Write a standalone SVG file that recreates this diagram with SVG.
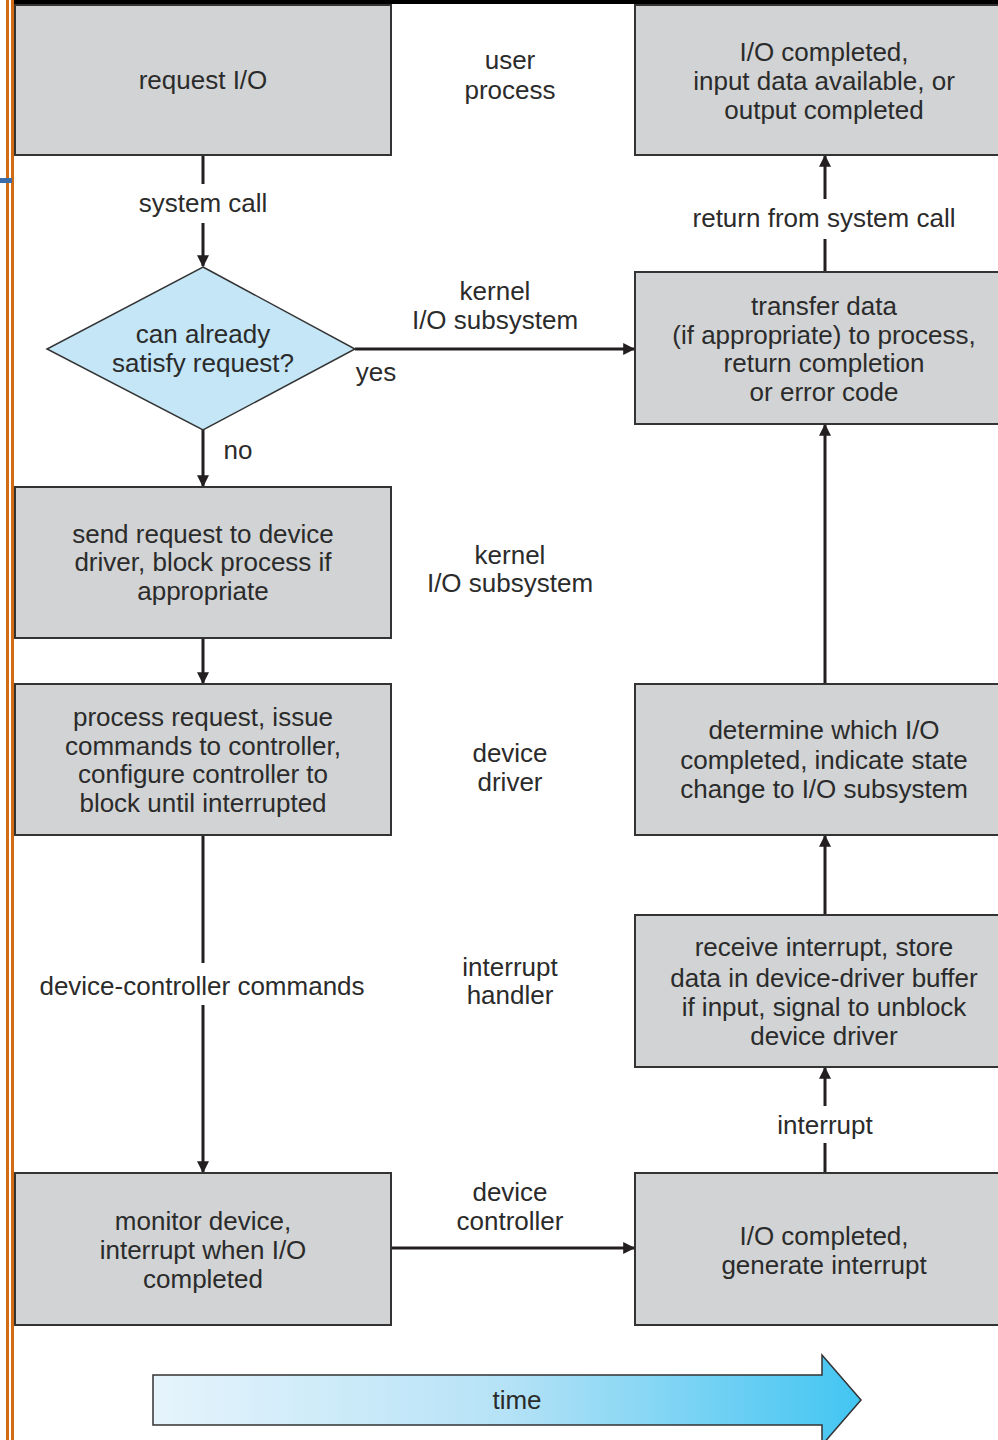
<svg xmlns="http://www.w3.org/2000/svg" width="998" height="1440" viewBox="0 0 998 1440">
<defs>
<style>
.box{fill:#d1d3d4;stroke:#333;stroke-width:2}
.t{font-family:"Liberation Sans",Arial,sans-serif;font-size:26px;fill:#2b2b2b;text-anchor:middle}
.c{stroke:#231f20;stroke-width:3;fill:none}
.ca{stroke:#231f20;stroke-width:3;fill:none;marker-end:url(#ah)}
</style>
<marker id="ah" viewBox="0 0 10 10" refX="9" refY="5" markerWidth="4" markerHeight="4" orient="auto" markerUnits="strokeWidth">
<path d="M0,0 L10,5 L0,10 z" fill="#231f20"/>
</marker>
<linearGradient id="tg" x1="0" y1="0" x2="1" y2="0">
<stop offset="0" stop-color="#e6f4fc"/>
<stop offset="0.5" stop-color="#b5e2f6"/>
<stop offset="1" stop-color="#42c5f2"/>
</linearGradient>
</defs>
<rect x="0" y="0" width="998" height="1440" fill="#fff"/>
<g id="frame">
<rect x="14" y="0" width="984" height="4" fill="#000"/>
<rect x="6" y="0" width="3" height="1440" fill="#d06d12"/>
<rect x="11" y="0" width="3" height="1440" fill="#d06d12"/>
<rect x="0" y="178" width="12" height="5" fill="#3b6ea8"/>
</g>
<g id="connectors">
<line class="c" x1="203" y1="155" x2="203" y2="184"/>
<line class="ca" x1="203" y1="223" x2="203" y2="266"/>
<line class="ca" x1="203" y1="430" x2="203" y2="486"/>
<line class="ca" x1="355" y1="349" x2="634" y2="349"/>
<line class="ca" x1="203" y1="638" x2="203" y2="683"/>
<line class="c" x1="203" y1="835" x2="203" y2="963"/>
<line class="ca" x1="203" y1="1005" x2="203" y2="1172"/>
<line class="ca" x1="391" y1="1248" x2="634" y2="1248"/>
<line class="c" x1="825" y1="1173" x2="825" y2="1143"/>
<line class="ca" x1="825" y1="1106" x2="825" y2="1068"/>
<line class="ca" x1="825" y1="915" x2="825" y2="836"/>
<line class="ca" x1="825" y1="684" x2="825" y2="425"/>
<line class="c" x1="825" y1="272" x2="825" y2="239"/>
<line class="ca" x1="825" y1="199" x2="825" y2="156"/>
</g>
<g id="labels">
<text class="t" x="203" y="212">system call</text>
<text class="t" x="376" y="381">yes</text>
<text class="t" x="238" y="459">no</text>
<text class="t" x="202" y="995">device-controller commands</text>
<text class="t" x="825" y="1134">interrupt</text>
<text class="t" x="824" y="227">return from system call</text>
<text class="t" x="510" y="69">user</text>
<text class="t" x="510" y="99">process</text>
<text class="t" x="495" y="300">kernel</text>
<text class="t" x="495" y="329">I/O subsystem</text>
<text class="t" x="510" y="564">kernel</text>
<text class="t" x="510" y="592">I/O subsystem</text>
<text class="t" x="510" y="762">device</text>
<text class="t" x="510" y="791">driver</text>
<text class="t" x="510" y="976">interrupt</text>
<text class="t" x="510" y="1004">handler</text>
<text class="t" x="510" y="1201">device</text>
<text class="t" x="510" y="1230">controller</text>
</g>
<g id="n-request">
<rect class="box" x="15" y="5" width="376" height="150"/>
<text class="t" x="203" y="89">request I/O</text>
</g>
<g id="n-decision">
<polygon points="203,267 355,349 203,430 47,349" fill="#c4e6f7" stroke="#333" stroke-width="1.5"/>
<text class="t" x="203" y="343">can already</text>
<text class="t" x="203" y="372">satisfy request?</text>
</g>
<g id="n-send">
<rect class="box" x="15" y="487" width="376" height="151"/>
<text class="t" x="203" y="543">send request to device</text>
<text class="t" x="203" y="571">driver, block process if</text>
<text class="t" x="203" y="600">appropriate</text>
</g>
<g id="n-process">
<rect class="box" x="15" y="684" width="376" height="151"/>
<text class="t" x="203" y="726">process request, issue</text>
<text class="t" x="203" y="755">commands to controller,</text>
<text class="t" x="203" y="783">configure controller to</text>
<text class="t" x="203" y="812">block until interrupted</text>
</g>
<g id="n-monitor">
<rect class="box" x="15" y="1173" width="376" height="152"/>
<text class="t" x="203" y="1230">monitor device,</text>
<text class="t" x="203" y="1259">interrupt when I/O</text>
<text class="t" x="203" y="1288">completed</text>
</g>
<g id="n-completed">
<rect class="box" x="635" y="5" width="370" height="150"/>
<text class="t" x="824" y="61">I/O completed,</text>
<text class="t" x="824" y="90">input data available, or</text>
<text class="t" x="824" y="119">output completed</text>
</g>
<g id="n-transfer">
<rect class="box" x="635" y="272" width="370" height="152"/>
<text class="t" x="824" y="315">transfer data</text>
<text class="t" x="824" y="344">(if appropriate) to process,</text>
<text class="t" x="824" y="372">return completion</text>
<text class="t" x="824" y="401">or error code</text>
</g>
<g id="n-determine">
<rect class="box" x="635" y="684" width="370" height="151"/>
<text class="t" x="824" y="739">determine which I/O</text>
<text class="t" x="824" y="769">completed, indicate state</text>
<text class="t" x="824" y="798">change to I/O subsystem</text>
</g>
<g id="n-receive">
<rect class="box" x="635" y="915" width="370" height="152"/>
<text class="t" x="824" y="956">receive interrupt, store</text>
<text class="t" x="824" y="987">data in device-driver buffer</text>
<text class="t" x="824" y="1016">if input, signal to unblock</text>
<text class="t" x="824" y="1045">device driver</text>
</g>
<g id="n-generate">
<rect class="box" x="635" y="1173" width="370" height="152"/>
<text class="t" x="824" y="1245">I/O completed,</text>
<text class="t" x="824" y="1274">generate interrupt</text>
</g>
<g id="time">
<polygon points="153,1375 822,1375 822,1355 861,1400 822,1445 822,1425 153,1425" fill="url(#tg)" stroke="#333" stroke-width="1.5"/>
<text class="t" x="517" y="1409">time</text>
</g>
</svg>
